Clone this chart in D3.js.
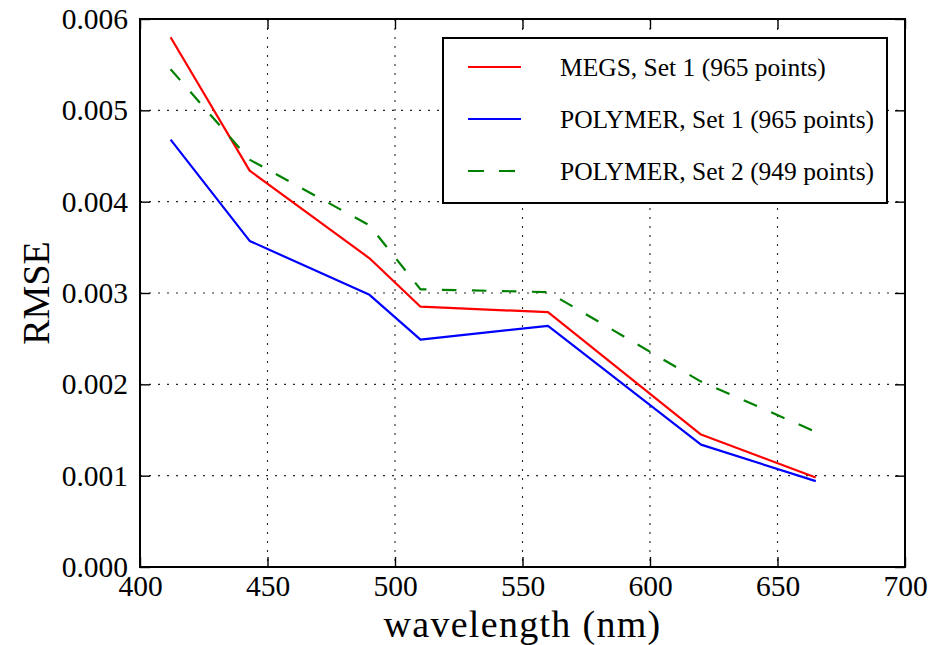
<!DOCTYPE html>
<html>
<head>
<meta charset="utf-8">
<script src="https://cdn.jsdelivr.net/npm/d3@7"></script>
<style>
  html, body { margin: 0; padding: 0; background: #fff; }
  svg { display: block; }
</style>
</head>
<body>
<svg id="chart" width="945" height="645"></svg>
<script>
// MERIS band centres (nm) and RMSE per band for each processing run
const wavelengths = [412, 443, 490, 510, 560, 620, 665];
const megsSet1 = [0.00580, 0.00434, 0.00338, 0.00285, 0.00279, 0.00145, 0.00098];
const polymerSet1 = [0.00468, 0.00357, 0.00298, 0.00249, 0.00264, 0.00134, 0.00094];
const polymerSet2 = [0.00545, 0.00446, 0.00374, 0.00304, 0.00301, 0.00203, 0.00148];

const seriesNames = [
  "MEGS, Set 1 (965 points)",
  "POLYMER, Set 1 (965 points)",
  "POLYMER, Set 2 (949 points)"
];
const seriesColors = ["#ff0000", "#0000ff", "#008000"];
const seriesDash = [null, null, "14.5,15.5"];
const seriesValues = [megsSet1, polymerSet1, polymerSet2];

const xTicks = [400, 450, 500, 550, 600, 650, 700];
const yTicks = [0, 0.001, 0.002, 0.003, 0.004, 0.005, 0.006];

const margin = { left: 140, top: 19, right: 40, bottom: 78 };
const W = 945, H = 645;
const iw = W - margin.left - margin.right;
const ih = H - margin.top - margin.bottom;

const svg = d3.select("#chart");
const g = svg.append("g").attr("transform", `translate(${margin.left},${margin.top})`);

const x = d3.scaleLinear().domain([400, 700]).range([0, iw]);
const y = d3.scaleLinear().domain([0, 0.006]).range([ih, 0]);

const serif = "'Liberation Serif', 'Times New Roman', serif";
const tickFont = 29.5;

// dotted grid
const grid = g.append("g").attr("stroke", "#000").attr("stroke-width", 1.1)
  .attr("stroke-dasharray", "2,7").attr("opacity", 0.85);
grid.selectAll("line.gx").data(xTicks).join("line")
  .attr("x1", d => x(d)).attr("x2", d => x(d)).attr("y1", 0).attr("y2", ih);
grid.selectAll("line.gy").data(yTicks).join("line")
  .attr("y1", d => y(d)).attr("y2", d => y(d)).attr("x1", 0).attr("x2", iw);

// inward ticks on all four sides, labels on bottom and left
const tickLen = 10;
const xAxis = d3.axisBottom(x).tickValues(xTicks).tickSizeInner(-tickLen).tickSizeOuter(0)
  .tickPadding(8).tickFormat(d3.format("d"));
const yAxis = d3.axisLeft(y).tickValues(yTicks).tickSizeInner(-tickLen).tickSizeOuter(0)
  .tickPadding(12).tickFormat(d3.format(".3f"));
const xTop = d3.axisTop(x).tickValues(xTicks).tickSizeInner(-tickLen).tickSizeOuter(0).tickFormat("");
const yRight = d3.axisRight(y).tickValues(yTicks).tickSizeInner(-tickLen).tickSizeOuter(0).tickFormat("");

function styleAxis(sel) {
  sel.attr("font-family", serif).attr("font-size", tickFont);
  sel.select(".domain").remove();
  sel.selectAll(".tick line").attr("stroke", "#000").attr("stroke-width", 1.4);
  sel.selectAll(".tick text").attr("fill", "#000").attr("font-family", serif).attr("font-size", tickFont);
}
g.append("g").attr("transform", `translate(0,${ih})`).call(xAxis).call(styleAxis)
  .selectAll(".tick text").attr("dy", "0.72em");
g.append("g").call(yAxis).call(styleAxis);
g.append("g").call(xTop).call(styleAxis);
g.append("g").attr("transform", `translate(${iw},0)`).call(yRight).call(styleAxis);

// data lines
const line = d3.line().x(d => x(d[0])).y(d => y(d[1]));
seriesValues.forEach((vals, i) => {
  g.append("path")
    .datum(wavelengths.map((w, k) => [w, vals[k]]))
    .attr("fill", "none")
    .attr("stroke", seriesColors[i])
    .attr("stroke-width", 2.2)
    .attr("stroke-linejoin", "round")
    .attr("stroke-dasharray", seriesDash[i])
    .attr("d", line);
});

// frame
g.append("rect").attr("x", 0).attr("y", 0).attr("width", iw).attr("height", ih)
  .attr("fill", "none").attr("stroke", "#000").attr("stroke-width", 2);

// legend
const legend = g.append("g").attr("transform", `translate(${443 - margin.left},${38 - margin.top})`);
legend.append("rect").attr("width", 444).attr("height", 165)
  .attr("fill", "#fff").attr("stroke", "#000").attr("stroke-width", 2);
seriesNames.forEach((name, i) => {
  const ry = 29 + i * 52;
  legend.append("line").attr("x1", 25).attr("x2", 78).attr("y1", ry).attr("y2", ry)
    .attr("stroke", seriesColors[i]).attr("stroke-width", 2.2)
    .attr("stroke-dasharray", seriesDash[i] ? "16,15" : null);
  legend.append("text").attr("x", 117).attr("y", ry).attr("dy", "0.35em")
    .attr("font-family", serif).attr("font-size", 25.5).attr("fill", "#000").text(name);
});

// axis titles
svg.append("text")
  .attr("x", margin.left + iw / 2).attr("y", 637)
  .attr("text-anchor", "middle")
  .attr("font-family", serif).attr("font-size", 38).attr("letter-spacing", 1.3)
  .attr("fill", "#000").text("wavelength (nm)");
svg.append("text")
  .attr("transform", `translate(49,${margin.top + ih / 2}) rotate(-90)`)
  .attr("text-anchor", "middle")
  .attr("font-family", serif).attr("font-size", 38)
  .attr("fill", "#000").text("RMSE");
</script>
</body>
</html>
